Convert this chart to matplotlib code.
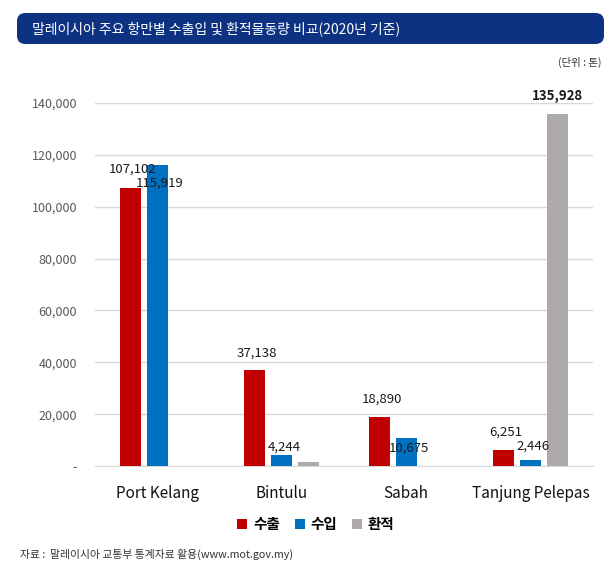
import numpy as np
import matplotlib
matplotlib.use("Agg")
import matplotlib.pyplot as plt
from matplotlib.patches import FancyBboxPatch, Patch

plt.rcParams["font.family"] = ["Noto Sans CJK KR", "DejaVu Sans"]

# ---------------------------------------------------------------- data
ports = ["Port Kelang", "Bintulu", "Sabah", "Tanjung Pelepas"]
exports = [107102, 37138, 18890, 6251]
imports = [115919, 4244, 10675, 2446]
tranship = [0, 1600, 0, 135928]
series_names = ["수출", "수입", "환적"]
y_ticks = [0, 20000, 40000, 60000, 80000, 100000, 120000, 140000]

# label placement (points, relative to bar top) - the source chart moved some by hand
export_label_dy = [14, 12, 13, 13]
import_label_dy = [-13, 6, -7, 10]

COLORS = ["#C00000", "#0070C0", "#AEAAAA"]
W, H = 616, 586

fig = plt.figure(figsize=(W / 100, H / 100), dpi=100)

# ---------------------------------------------------------------- title box
box = FancyBboxPatch((17 / W, 1 - 44 / H), (604 - 17) / W, 31 / H,
                     boxstyle="round,pad=0,rounding_size=0.014",
                     transform=fig.transFigure, facecolor="#0D3282",
                     edgecolor="none")
fig.patches.append(box)
fig.text(32 / W, 1 - 29 / H, "말레이시아 주요 항만별 수출입 및 환적물동량 비교(2020년 기준)",
         color="white", fontsize=10, fontweight="medium", va="center", ha="left")
fig.text(602 / W, 1 - 62 / H, "(단위 : 톤)", fontsize=7.5, color="#333333",
         ha="right", va="center")

# ---------------------------------------------------------------- axes
ax = fig.add_axes([95 / W, 1 - 466 / H, (593 - 95) / W, (466 - 103) / H])
x = np.arange(len(ports))
bw = 0.17
step = 0.217

for i, (vals, c) in enumerate(zip([exports, imports, tranship], COLORS)):
    ax.bar(x + (i - 1) * step, vals, bw, color=c, zorder=3, label=series_names[i])

lbl = dict(textcoords="offset points", ha="center", va="center",
           fontsize=9.5, color="#1a1a1a", fontweight="medium",
           annotation_clip=False, zorder=5)
for xi, v, dy in zip(x, exports, export_label_dy):
    ax.annotate(f"{v:,}", (xi - step + 0.02, v), xytext=(0, dy), **lbl)
for xi, v, dy in zip(x, imports, import_label_dy):
    ax.annotate(f"{v:,}", (xi + 0.02, v), xytext=(0, dy), **lbl)
ax.annotate(f"{tranship[3]:,}", (x[3] + step, tranship[3]), xytext=(0, 13),
            textcoords="offset points", ha="center", va="center",
            fontsize=9.5, color="#1a1a1a", fontweight="bold",
            annotation_clip=False)

ax.set_xlim(-0.5, len(ports) - 0.5)
ax.set_ylim(0, 140000)
ax.set_yticks(y_ticks)
ax.set_yticklabels(["-" if t == 0 else f"{t:,}" for t in y_ticks],
                   fontsize=9, color="#595959")
ax.set_xticks(x)
ax.set_xticklabels(ports, fontsize=11, color="#111111")
ax.tick_params(axis="both", length=0)
ax.tick_params(axis="y", pad=13)
ax.tick_params(axis="x", pad=14)
ax.grid(axis="y", color="#D9D9D9", lw=1, zorder=0)
for s in ["top", "right", "left"]:
    ax.spines[s].set_visible(False)
ax.spines["bottom"].set_color("#D9D9D9")

handles = [Patch(facecolor=c, edgecolor="none") for c in COLORS]
fig.legend(handles, series_names, loc="center", bbox_to_anchor=(316 / W, 1 - 524 / H),
           ncol=3, frameon=False, handlelength=0.7, handleheight=0.7,
           handletextpad=0.4, columnspacing=1.0,
           prop={"size": 10.5, "weight": "bold"})

fig.text(20 / W, 1 - 554 / H, "자료 :  말레이시아 교통부 통계자료 활용(www.mot.gov.my)",
         fontsize=7.8, color="#333333", ha="left", va="center")

fig.savefig("out.png", dpi=100)
